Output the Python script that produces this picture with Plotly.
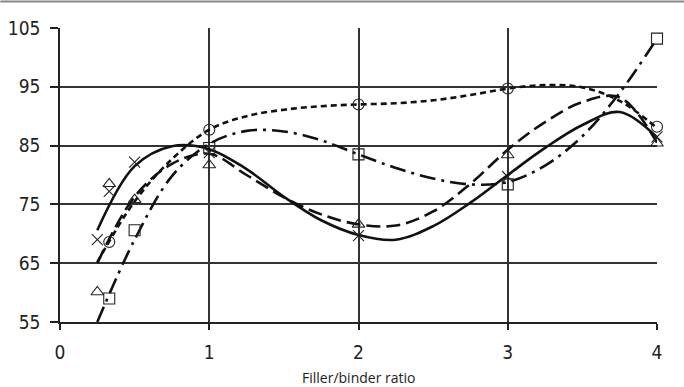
import plotly.graph_objects as go

# ---- marker data ----
circle_x = [0.33, 1, 2, 3, 4]
circle_y = [68.6, 87.7, 92.0, 94.7, 88.2]

square_x = [0.33, 0.5, 1, 2, 3, 4]
square_y = [59.0, 70.6, 84.6, 83.5, 78.4, 103.2]

triangle_x = [0.25, 0.33, 0.5, 1, 2, 3, 4]
triangle_y = [60.1, 78.5, 75.8, 81.7, 71.6, 83.4, 85.4]

cross_x = [0.25, 0.33, 0.5, 1, 2, 3, 4]
cross_y = [69.0, 77.2, 82.2, 83.8, 69.7, 79.7, 86.5]

# ---- trend lines ----
trend_x = [0.25, 0.5, 0.75, 1, 1.25, 1.5, 1.75, 2, 2.25, 2.5, 2.75, 3, 3.25, 3.5, 3.75, 4]
circle_trend = [65.2, 75.5, 82.7, 87.7, 90.0, 91.1, 91.7, 92.0, 92.2, 92.7, 93.6, 94.7, 95.3, 94.9, 92.6, 88.0]
square_trend = [55.0, 69.0, 79.8, 85.3, 87.5, 87.4, 85.9, 83.5, 81.2, 79.4, 78.4, 78.8, 81.6, 86.6, 94.0, 103.2]
triangle_trend = [65.0, 76.3, 81.9, 83.6, 80.0, 76.2, 73.3, 71.6, 71.4, 73.8, 78.5, 84.3, 89.0, 92.4, 93.2, 85.5]
cross_trend = [70.6, 81.5, 84.9, 84.4, 81.0, 76.3, 72.3, 69.8, 69.0, 71.3, 75.3, 80.0, 84.6, 88.5, 90.7, 86.4]

x_ticks = [0, 1, 2, 3, 4]
y_ticks = [55, 65, 75, 85, 95, 105]

fig = go.Figure()

line_styles = [
    (circle_trend, "6px,4px"),
    (square_trend, "16px,6px,3px,6px"),
    (triangle_trend, "14px,6px"),
    (cross_trend, "solid"),
]
for ys, dash in line_styles:
    fig.add_trace(go.Scatter(x=trend_x, y=ys, mode="lines",
                             line=dict(color="#111", width=2.6, dash=dash, shape="spline", smoothing=1.0),
                             hoverinfo="skip", showlegend=False, cliponaxis=False))

markers = [
    (circle_x, circle_y, "circle-open"),
    (square_x, square_y, "square-open"),
    (triangle_x, triangle_y, "triangle-up-open"),
    (cross_x, cross_y, "x-thin-open"),
]
for xs, ys, sym in markers:
    fig.add_trace(go.Scatter(x=xs, y=ys, mode="markers",
                             marker=dict(symbol=sym, size=11, color="#222",
                                         line=dict(color="#222", width=1.1)),
                             showlegend=False, cliponaxis=False))

tick_font = dict(family="DejaVu Sans Condensed, Liberation Sans Narrow, sans-serif", size=19, color="#222")

fig.update_xaxes(range=[0, 4], tickvals=x_ticks, showgrid=True, gridcolor="#333", gridwidth=1.5,
                 showline=True, linecolor="#222", linewidth=1.5, ticks="outside", ticklen=6,
                 tickcolor="#222", tickwidth=1.5, zeroline=False, tickfont=tick_font,
                 ticklabelstandoff=6, automargin=False)
fig.update_yaxes(range=[55, 105], tickvals=y_ticks, showgrid=True, gridcolor="#333", gridwidth=1.5,
                 showline=True, linecolor="#222", linewidth=1.5, ticks="outside", ticklen=8,
                 tickcolor="#222", tickwidth=1.5, zeroline=False, tickfont=tick_font,
                 ticklabelstandoff=6, automargin=False)

fig.add_annotation(text="Filler/binder ratio", x=2, xref="x", y=-0.19, yref="paper",
                   showarrow=False, yanchor="middle",
                   font=dict(family="Open Sans, sans-serif", size=14, color="#222"))

# thin grey frame line at the very top of the picture
fig.add_shape(type="line", xref="paper", yref="paper", x0=-0.1, x1=1.1,
              y0=(322 - 1.5) / 294, y1=(322 - 1.5) / 294, layer="above",
              line=dict(color="#888", width=2))

fig.update_layout(width=684, height=387, margin=dict(l=60, r=27, t=28, b=65),
                  plot_bgcolor="white", paper_bgcolor="white")

fig.write_html("out.html", config={"displayModeBar": False},
               post_script="document.body.style.margin='0';document.body.style.overflow='hidden';")
